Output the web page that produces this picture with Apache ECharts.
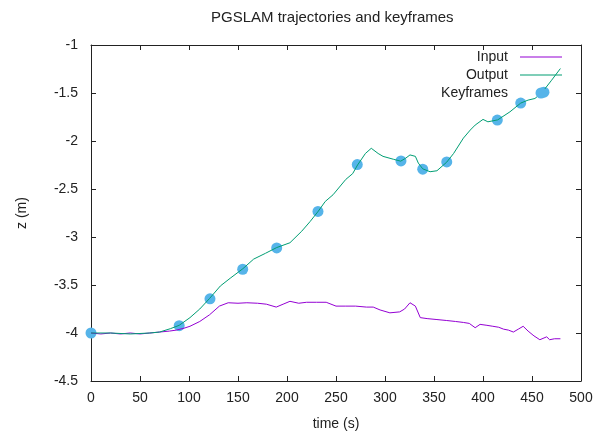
<!DOCTYPE html>
<html>
<head>
<meta charset="utf-8">
<script src="https://cdn.jsdelivr.net/npm/echarts@6/dist/echarts.min.js"></script>
<style>
  html, body { margin: 0; padding: 0; background: #fff; }
  #chart { width: 600px; height: 436px; }
</style>
</head>
<body>
<div id="chart"></div>
<script>
// values
var inputTime = [0, 10, 20, 30, 40, 50, 60, 70, 80, 87, 95, 101, 111, 121, 131, 140, 150, 159, 170, 179, 189, 196, 203, 212, 220, 230, 240, 250, 260, 270, 281, 288, 295, 305, 315, 320, 325.5, 331, 336, 343, 353, 363, 372, 380, 386, 392, 397, 404, 410, 416, 421, 426, 431, 436, 441, 446, 452, 458, 465, 468, 473, 479];
var inputZ = [-4.0, -4.01, -4.0, -4.01, -4.0, -4.01, -4.0, -3.99, -3.98, -3.97, -3.95, -3.93, -3.88, -3.81, -3.72, -3.685, -3.69, -3.685, -3.69, -3.70, -3.73, -3.70, -3.67, -3.69, -3.68, -3.68, -3.68, -3.72, -3.72, -3.72, -3.73, -3.73, -3.76, -3.79, -3.78, -3.75, -3.685, -3.72, -3.84, -3.85, -3.86, -3.87, -3.88, -3.89, -3.90, -3.945, -3.91, -3.92, -3.93, -3.94, -3.96, -3.97, -3.99, -3.96, -3.93, -3.98, -4.03, -4.07, -4.04, -4.07, -4.06, -4.06];

var outputTime = [0, 20, 40, 60, 70, 81, 90, 101, 111, 121, 132, 142, 155, 166, 178, 189.5, 203, 215, 223.5, 232, 239, 247, 260, 267, 272, 280, 286, 293, 298, 308.5, 316, 321, 325.5, 331, 334, 338.5, 346, 353, 363, 370, 380, 387, 392, 400, 405, 415, 427.5, 438.5, 446, 453, 460, 470, 479];
var outputZ = [-4.0, -4.0, -4.01, -4.0, -3.99, -3.955, -3.92, -3.84, -3.75, -3.64, -3.51, -3.43, -3.33, -3.23, -3.17, -3.11, -3.06, -2.94, -2.84, -2.73, -2.63, -2.56, -2.40, -2.34, -2.25, -2.13, -2.076, -2.13, -2.16, -2.19, -2.21, -2.18, -2.145, -2.16, -2.23, -2.29, -2.32, -2.31, -2.22, -2.13, -1.97, -1.886, -1.834, -1.775, -1.80, -1.78, -1.696, -1.605, -1.574, -1.557, -1.498, -1.367, -1.245];

var keyTime = [0, 90, 121.4, 154.8, 189.5, 231.6, 271.7, 316.3, 338.5, 363, 414.6, 438.5, 462.2];
var keyZ = [-4.0, -3.924, -3.644, -3.336, -3.114, -2.734, -2.246, -2.208, -2.294, -2.218, -1.782, -1.605, -1.491];

var xTicks = { min: 0, max: 500, interval: 50 };
var yTicks = { min: -4.5, max: -1, interval: 0.5 };

function pairs(xs, ys) {
    var out = [];
    for (var i = 0; i < xs.length; i++) out.push([xs[i], ys[i]]);
    return out;
}

var font = 'Liberation Sans, Arial, sans-serif';
var axisCol = '#222';
var txtCol = '#222';
// thin horizontal bar used as the legend sample for the two lines
var lineIcon = 'path://M0,0 L42,0 L42,1.2 L0,1.2 Z';

var myChart = echarts.init(document.getElementById('chart'), null, { renderer: 'canvas' });

var option = {
    animation: false,
    backgroundColor: '#fff',
    title: {
        text: 'PGSLAM trajectories and keyframes',
        left: 206, top: 5,
        textStyle: { fontFamily: font, fontSize: 15, fontWeight: 'normal', color: txtCol }
    },
    grid: { left: 91, right: 19, top: 45, bottom: 54, show: false },
    legend: {
        orient: 'vertical',
        right: 38, top: 50, padding: 0,
        align: 'right',
        itemWidth: 42, itemHeight: 11, itemGap: 4,
        textStyle: { fontFamily: font, fontSize: 14, color: txtCol, padding: [0, 7, 0, 0] },
        data: [
            { name: 'Input', icon: lineIcon },
            { name: 'Output', icon: lineIcon },
            { name: 'Keyframes', icon: 'circle' }
        ]
    },
    xAxis: [{
        type: 'value', min: xTicks.min, max: xTicks.max, interval: xTicks.interval,
        name: 'time (s)', nameLocation: 'middle', nameGap: 36,
        nameTextStyle: { fontFamily: font, fontSize: 14, color: txtCol },
        axisLine: { show: true, onZero: false, lineStyle: { color: axisCol, width: 1 } },
        axisTick: { show: true, inside: true, length: 5, lineStyle: { color: axisCol } },
        axisLabel: { fontFamily: font, fontSize: 14, color: txtCol, margin: 10 },
        splitLine: { show: false }
    }, {
        type: 'value', position: 'top', min: xTicks.min, max: xTicks.max, interval: xTicks.interval,
        axisLine: { show: true, onZero: false, lineStyle: { color: axisCol, width: 1 } },
        axisTick: { show: true, inside: true, length: 5, lineStyle: { color: axisCol } },
        axisLabel: { show: false },
        splitLine: { show: false }
    }],
    yAxis: [{
        type: 'value', min: yTicks.min, max: yTicks.max, interval: yTicks.interval,
        name: 'z (m)', nameLocation: 'middle', nameGap: 62, nameRotate: 90,
        nameTextStyle: { fontFamily: font, fontSize: 14, color: txtCol },
        axisLine: { show: true, onZero: false, lineStyle: { color: axisCol, width: 1 } },
        axisTick: { show: true, inside: true, length: 5, lineStyle: { color: axisCol } },
        axisLabel: { fontFamily: font, fontSize: 14, color: txtCol, margin: 13 },
        splitLine: { show: false }
    }, {
        type: 'value', position: 'right', min: yTicks.min, max: yTicks.max, interval: yTicks.interval,
        axisLine: { show: true, onZero: false, lineStyle: { color: axisCol, width: 1 } },
        axisTick: { show: true, inside: true, length: 5, lineStyle: { color: axisCol } },
        axisLabel: { show: false },
        splitLine: { show: false }
    }],
    series: [{
        name: 'Input', type: 'line', symbol: 'none',
        lineStyle: { color: '#9400d3', width: 1 },
        itemStyle: { color: '#9400d3' },
        data: pairs(inputTime, inputZ)
    }, {
        name: 'Output', type: 'line', symbol: 'none',
        lineStyle: { color: '#009e73', width: 1 },
        itemStyle: { color: '#009e73' },
        data: pairs(outputTime, outputZ)
    }, {
        name: 'Keyframes', type: 'scatter', symbol: 'circle', symbolSize: 11,
        itemStyle: { color: '#56b4e9', opacity: 1 },
        data: pairs(keyTime, keyZ)
    }]
};

myChart.setOption(option);
</script>
</body>
</html>
